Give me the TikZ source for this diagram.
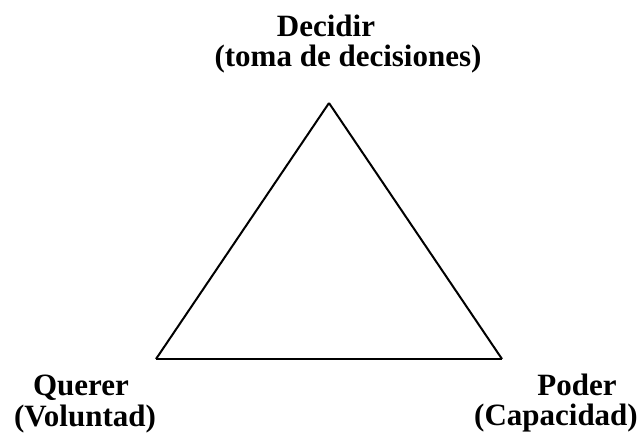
\documentclass[tikz,border=0pt]{standalone}
\usepackage{fontspec}
\setmainfont{Liberation Serif}
\begin{document}
\begin{tikzpicture}[x=0.5pt,y=-0.5pt,
    label/.style={anchor=base,inner sep=0pt,font=\fontsize{15.5}{18}\selectfont\bfseries}]
      \useasboundingbox (0,0) rectangle (643,436);
      \draw
        (326,36) node[label] (dec){Decidir}
        (348,66) node[label] (tom){(toma de decisiones)}
        (81,395) node[label] (que){Querer}
        (85,426) node[label] (vol){(Voluntad)}
        (577,395) node[label] (pod){Poder}
        (556,425) node[label] (cap){(Capacidad)};
      \coordinate (apex) at (329,103);
      \coordinate (left) at (156,359);
      \coordinate (right) at (502,359);
      \begin{scope}[line width=1pt]
        \draw (apex) to (left);
        \draw (left) to (right);
        \draw (right) to (apex);
      \end{scope}
    \end{tikzpicture}
\end{document}
